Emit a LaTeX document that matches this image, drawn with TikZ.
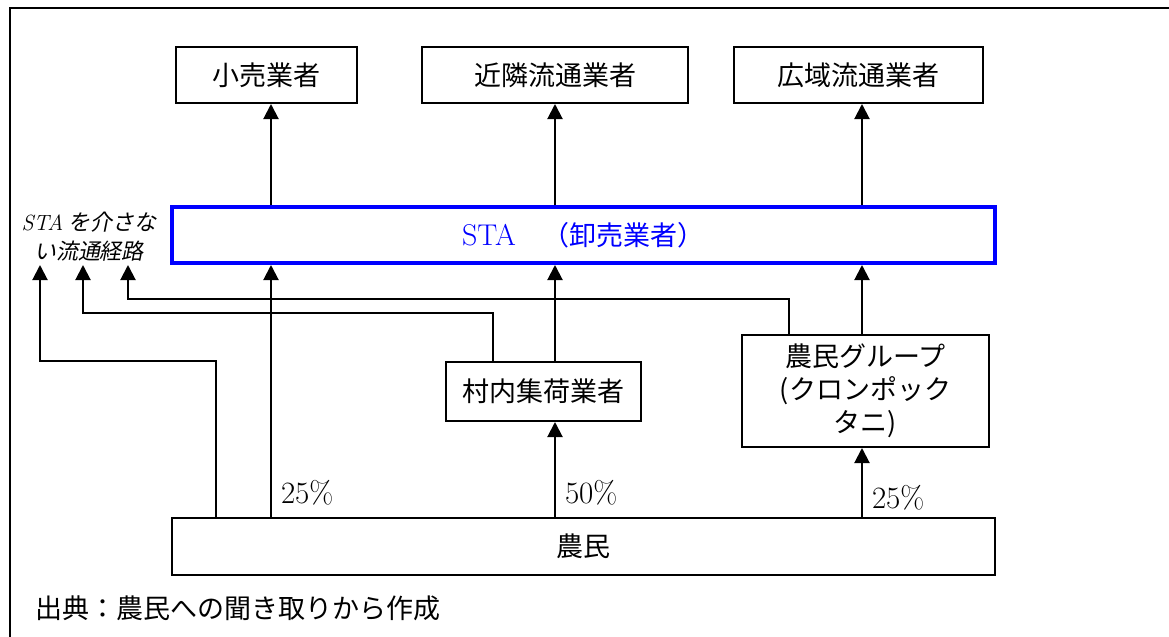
\documentclass[tikz,border=0pt]{standalone}
\usepackage{fontspec}
\newfontfamily\jp{Noto Sans CJK JP}
\newfontfamily\jpit[FakeSlant=0.2]{Noto Sans CJK JP}
\usetikzlibrary{arrows.meta}

\begin{document}
\begin{tikzpicture}[x=0.5pt,y=-0.5pt]
        \tikzstyle{box}=[draw,line width=1pt,inner sep=0pt,align=center,font=\fontsize{13.5}{16.5}\selectfont\jp]
        \tikzstyle{arr}=[line width=1pt,-{Triangle[width=7.5pt,length=7.5pt]}]
        \tikzstyle{pct}=[anchor=south west,inner sep=0pt,xshift=4.5pt,yshift=5.5pt,font=\fontsize{15.5}{18}\selectfont]
        \useasboundingbox (0,0) rectangle (1169,637);
        \draw[line width=1pt] (10,660) -- (10,8) -- (1190,8);
        \node[box,minimum width=90.5pt,minimum height=28pt] (retail) at (266.5,75) {小売業者};
        \node[box,minimum width=133pt,minimum height=28pt] (near) at (555,75) {近隣流通業者};
        \node[box,minimum width=124.5pt,minimum height=28pt] (wide) at (858.5,75) {広域流通業者};
        \node[box,draw=blue,line width=2pt,text=blue,minimum width=411.5pt,minimum height=28pt,font=\fontsize{15}{16.5}\selectfont] (sta) at (583.5,235) {STA\fontsize{13.5}{16.5}\selectfont\jp　（卸売業者）};
        \node[box,minimum width=97.5pt,minimum height=29.5pt] (village) at (543.5,391.5) {村内集荷業者};
        \node[box,minimum width=123.5pt,minimum height=56pt] (group) at (865.5,391) {農民グループ\\(クロンポック\\タニ)};
        \node[box,minimum width=411.5pt,minimum height=28.5pt] (farmer) at (583.5,546.5) {農民};
        \node[align=center,inner sep=0pt,font=\fontsize{11}{14.5}\selectfont\jpit] (lbl) at (89,237) {{\rmfamily\itshape STA} を介さな\\い流通経路};
        \node[anchor=west,inner sep=0pt,font=\fontsize{13.5}{16.5}\selectfont\jp] (src) at (35,608) {出典：農民への聞き取りから作成};
        \coordinate (tip) at (0,265);
        \coordinate (h2) at (0,313);
        \coordinate (h3) at (0,299);
        \coordinate (c1) at (271,0);
        \coordinate (c2) at (555,0);
        \coordinate (c3) at (862,0);
        \coordinate (b1) at (216,0);
        \coordinate (v1) at (493,0);
        \coordinate (g1) at (789,0);
        \coordinate (l1) at (40,0);
        \coordinate (l2) at (83,0);
        \coordinate (l3) at (128,0);
        \draw[arr] (sta.north -| c1) -- (retail.south -| c1);
        \draw[arr] (sta.north -| c2) -- (near.south -| c2);
        \draw[arr] (sta.north -| c3) -- (wide.south -| c3);
        \draw[arr] (farmer.north -| c1) node[pct]{25\%} -- (sta.south -| c1);
        \draw[arr] (farmer.north -| c2) node[pct]{50\%} -- (village.south -| c2);
        \draw[arr] (farmer.north -| c3) node[pct,yshift=-2.5pt]{25\%} -- (group.south -| c3);
        \draw[arr] (village.north -| c2) -- (sta.south -| c2);
        \draw[arr] (group.north -| c3) -- (sta.south -| c3);
        \draw[arr] (farmer.north -| b1) |- (l1 |- village.north) -- (l1 |- tip);
        \draw[arr] (village.north -| v1) |- (l2 |- h2) -- (l2 |- tip);
        \draw[arr] (group.north -| g1) |- (l3 |- h3) -- (l3 |- tip);
\end{tikzpicture}
\end{document}
